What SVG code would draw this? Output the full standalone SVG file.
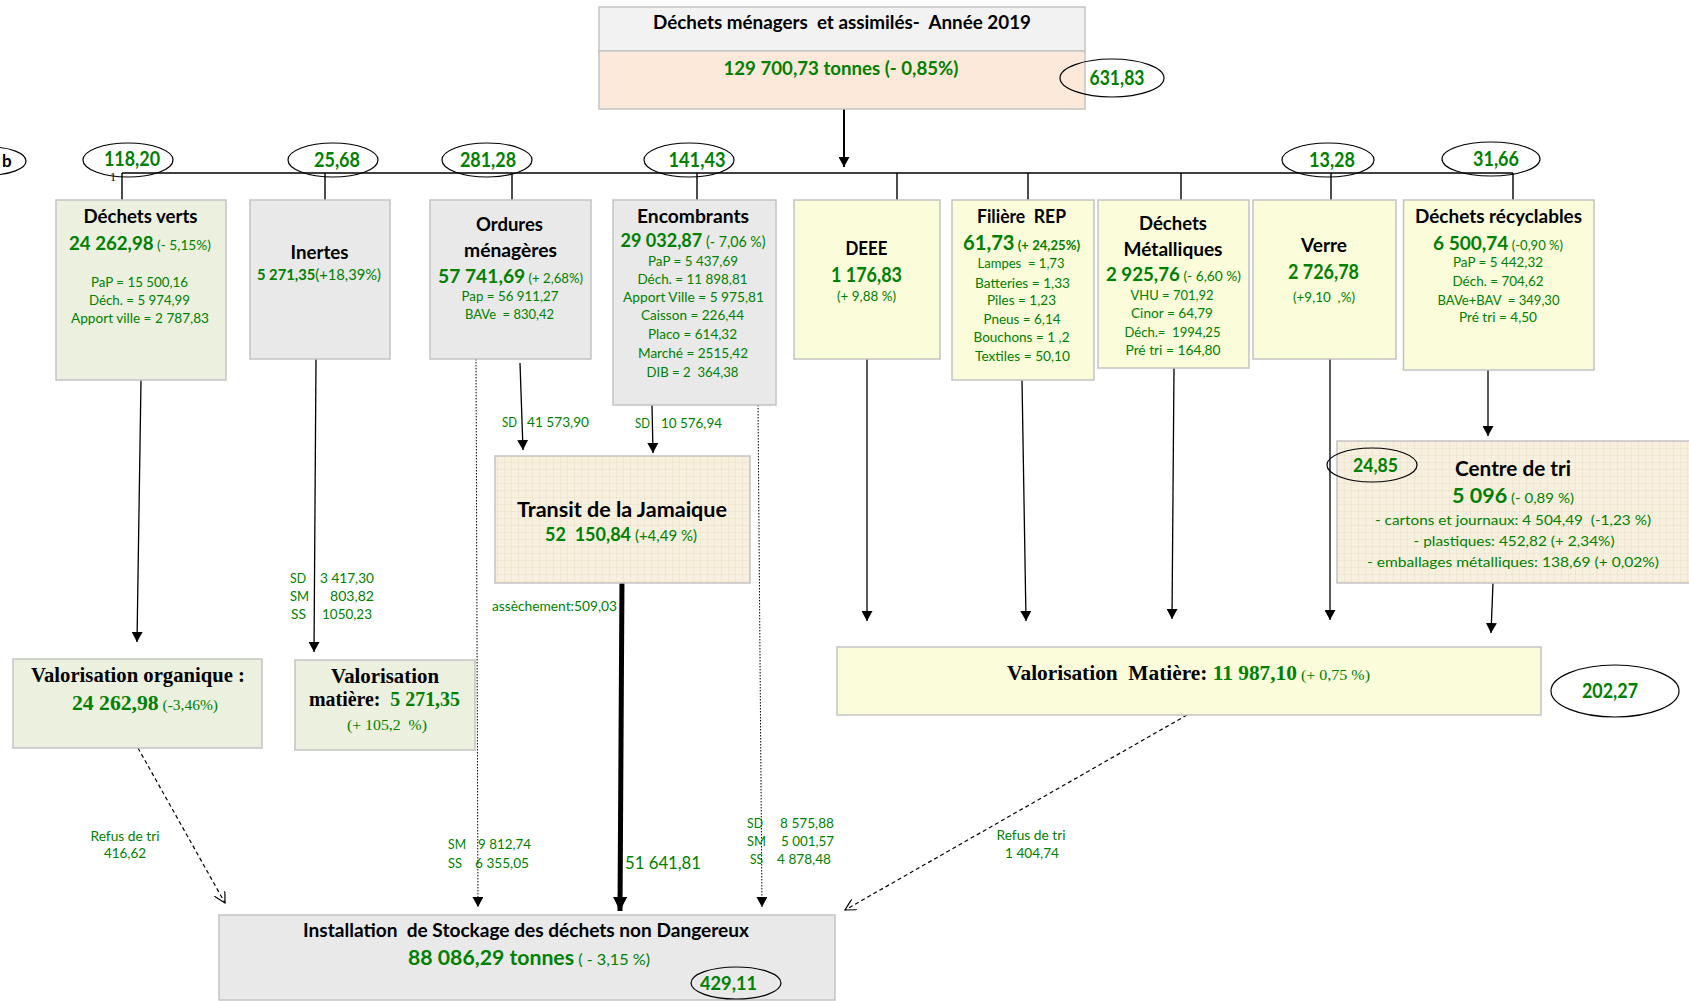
<svg xmlns="http://www.w3.org/2000/svg" width="1689" height="1001" viewBox="0 0 1689 1001" xml:space="preserve">
<style>
text{font-family:Lato,"Liberation Sans",sans-serif;white-space:pre;}
.c{text-anchor:middle;}
.k{fill:#000;font-weight:bold;}
.g{fill:#008000;}
.gb{fill:#008000;font-weight:bold;}
.ser{font-family:"Liberation Serif","Times New Roman",serif;}
.box{stroke:#c3c3c3;stroke-width:1.5;}
.gr{fill:#ebf1de;}
.gy{fill:#e9e9e9;}
.ye{fill:#fafcda;}
.ell{fill:none;stroke:#000;stroke-width:1.2;}
.ln{stroke:#000;stroke-width:1.4;fill:none;}
.ar{stroke:#000;stroke-width:1.3;fill:none;marker-end:url(#ah);}
.dot{stroke:#000;stroke-width:1;stroke-dasharray:1.5 1.5;fill:none;marker-end:url(#ah);}
.dash{stroke:#000;stroke-width:1.2;stroke-dasharray:4 3;fill:none;marker-end:url(#open);}
</style>
<defs>
<marker id="ah" viewBox="0 0 10 11" refX="10" refY="5.5" markerWidth="10" markerHeight="11" markerUnits="userSpaceOnUse" orient="auto"><path d="M0,0 L10,5.5 L0,11 z" fill="#000"/></marker>
<marker id="ahb" viewBox="0 0 14 14" refX="14" refY="7" markerWidth="14" markerHeight="14" markerUnits="userSpaceOnUse" orient="auto"><path d="M0,0 L14,7 L0,14 z" fill="#000"/></marker>
<marker id="open" viewBox="0 0 12 12" refX="11" refY="6" markerWidth="12" markerHeight="12" markerUnits="userSpaceOnUse" orient="auto"><path d="M0,0 L11,6 L0,12" fill="none" stroke="#000" stroke-width="1.2"/></marker>
<pattern id="grid" width="7" height="7" patternUnits="userSpaceOnUse"><rect width="7" height="7" fill="#f7f0de"/><path d="M7,0 L0,0 0,7" fill="none" stroke="#e6dcc3" stroke-width="0.8"/></pattern>
</defs>
<rect width="1689" height="1001" fill="#fff"/>

<g id="connectors">
<line class="ln" x1="844" y1="109" x2="844" y2="167" style="stroke-width:2;marker-end:url(#ah)"/>
<line class="ln" x1="122" y1="173" x2="1513" y2="173"/>
<line class="ln" x1="122" y1="173" x2="122" y2="200"/>
<line class="ln" x1="325" y1="173" x2="325" y2="200"/>
<line class="ln" x1="512" y1="173" x2="512" y2="200"/>
<line class="ln" x1="697" y1="173" x2="697" y2="200"/>
<line class="ln" x1="897" y1="173" x2="897" y2="200"/>
<line class="ln" x1="1028" y1="173" x2="1028" y2="200"/>
<line class="ln" x1="1181" y1="173" x2="1181" y2="200"/>
<line class="ln" x1="1331" y1="173" x2="1331" y2="200"/>
<line class="ln" x1="1513" y1="173" x2="1513" y2="200"/>
<line class="ar" x1="141" y1="380" x2="137" y2="642"/>
<line class="ar" x1="316" y1="359" x2="314" y2="652"/>
<line class="dot" x1="476" y1="359" x2="478" y2="907"/>
<line class="ar" x1="520" y1="363" x2="523" y2="450"/>
<line class="ar" x1="652" y1="405" x2="653" y2="453"/>
<line class="dot" x1="758" y1="405" x2="762" y2="907"/>
<line x1="622" y1="578" x2="620" y2="911" stroke="#000" stroke-width="5" marker-end="url(#ahb)"/>
<line class="ar" x1="867" y1="359" x2="867" y2="621"/>
<line class="ar" x1="1022" y1="380" x2="1026" y2="621"/>
<line class="ar" x1="1174" y1="368" x2="1172" y2="619"/>
<line class="ar" x1="1330" y1="359" x2="1330" y2="620"/>
<line class="ar" x1="1488" y1="370" x2="1488" y2="436"/>
<line class="ar" x1="1493" y1="583" x2="1491" y2="633"/>
<line class="dash" x1="138" y1="748" x2="225" y2="903"/>
<line class="dash" x1="1187" y1="715" x2="845" y2="910"/>
</g>

<g id="top">
<rect class="box" x="599" y="7" width="486" height="44" fill="#f2f2f2"/>
<rect class="box" x="599" y="51" width="486" height="58" fill="#fde9d9"/>
<text class="c k" x="842" y="29" font-size="19" textLength="378" lengthAdjust="spacingAndGlyphs">Déchets ménagers  et assimilés-  Année 2019</text>
<text class="c gb" x="841" y="75" font-size="19" textLength="235" lengthAdjust="spacingAndGlyphs">129 700,73 tonnes (- 0,85%)</text>
<ellipse class="ell" cx="1112" cy="78" rx="52" ry="19"/>
<text class="c gb" x="1117" y="85" font-size="20" textLength="55" lengthAdjust="spacingAndGlyphs">631,83</text>
</g>

<g id="bus-labels">
<ellipse class="ell" cx="-10" cy="161" rx="36" ry="14"/>
<text class="k" x="2" y="167" font-size="17">b</text>
<ellipse class="ell" cx="128" cy="160" rx="45" ry="17"/>
<text class="c gb" x="132" y="166" font-size="20" textLength="56" lengthAdjust="spacingAndGlyphs">118,20</text>
<text class="ser" x="110" y="181" font-size="12" fill="#000">1</text>
<ellipse class="ell" cx="333" cy="160" rx="45" ry="17"/>
<text class="c gb" x="337" y="167" font-size="20" textLength="46" lengthAdjust="spacingAndGlyphs">25,68</text>
<ellipse class="ell" cx="487" cy="160" rx="45" ry="17"/>
<text class="c gb" x="488" y="167" font-size="20" textLength="56" lengthAdjust="spacingAndGlyphs">281,28</text>
<ellipse class="ell" cx="689" cy="160" rx="45" ry="17"/>
<text class="c gb" x="697" y="167" font-size="20" textLength="57" lengthAdjust="spacingAndGlyphs">141,43</text>
<ellipse class="ell" cx="1328" cy="160" rx="46" ry="17"/>
<text class="c gb" x="1332" y="167" font-size="20" textLength="46" lengthAdjust="spacingAndGlyphs">13,28</text>
<ellipse class="ell" cx="1491" cy="159" rx="49" ry="17"/>
<text class="c gb" x="1496" y="166" font-size="20" textLength="46" lengthAdjust="spacingAndGlyphs">31,66</text>
</g>

<g id="dechets-verts">
<rect class="box gr" x="56" y="200" width="170" height="180"/>
<text class="c k" x="140.5" y="223" font-size="19" textLength="114" lengthAdjust="spacingAndGlyphs">Déchets verts</text>
<text class="c" x="140" y="250" textLength="142" lengthAdjust="spacingAndGlyphs"><tspan class="gb" font-size="19">24 262,98</tspan><tspan class="g" font-size="14"> (- 5,15%)</tspan></text>
<text class="c g" x="139.5" y="286.5" font-size="13" textLength="97" lengthAdjust="spacingAndGlyphs">PaP = 15 500,16</text>
<text class="c g" x="139.5" y="304.5" font-size="13" textLength="101" lengthAdjust="spacingAndGlyphs">Déch. = 5 974,99</text>
<text class="c g" x="140" y="322.5" font-size="13" textLength="138" lengthAdjust="spacingAndGlyphs">Apport ville = 2 787,83</text>
</g>

<g id="inertes">
<rect class="box gy" x="250" y="200" width="140" height="159"/>
<text class="c k" x="319.5" y="259" font-size="19" textLength="58" lengthAdjust="spacingAndGlyphs">Inertes</text>
<text class="c" x="319" y="280" textLength="124" lengthAdjust="spacingAndGlyphs"><tspan class="gb" font-size="15">5 271,35</tspan><tspan class="g" font-size="15">(+18,39%)</tspan></text>
</g>

<g id="ordures-menageres">
<rect class="box gy" x="430" y="200" width="161" height="159"/>
<text class="c k" x="509.5" y="231" font-size="19" textLength="67" lengthAdjust="spacingAndGlyphs">Ordures</text>
<text class="c k" x="510.5" y="257" font-size="19" textLength="93" lengthAdjust="spacingAndGlyphs">ménagères</text>
<text class="c" x="510.5" y="283" textLength="145" lengthAdjust="spacingAndGlyphs"><tspan class="gb" font-size="19">57 741,69</tspan><tspan class="g" font-size="13"> (+ 2,68%)</tspan></text>
<text class="c g" x="510" y="300.5" font-size="13" textLength="97" lengthAdjust="spacingAndGlyphs">Pap = 56 911,27</text>
<text class="c g" x="509.5" y="318.5" font-size="13" textLength="89" lengthAdjust="spacingAndGlyphs">BAVe  = 830,42</text>
</g>

<g id="encombrants">
<rect class="box gy" x="613" y="200" width="163" height="205"/>
<text class="c k" x="693" y="223" font-size="19" textLength="112" lengthAdjust="spacingAndGlyphs">Encombrants</text>
<text class="c" x="693" y="247" textLength="145" lengthAdjust="spacingAndGlyphs"><tspan class="gb" font-size="19">29 032,87</tspan><tspan class="g" font-size="15"> (- 7,06 %)</tspan></text>
<text class="c g" x="693" y="265.5" font-size="13" textLength="90" lengthAdjust="spacingAndGlyphs">PaP = 5 437,69</text>
<text class="c g" x="692.5" y="283.5" font-size="13" textLength="110" lengthAdjust="spacingAndGlyphs">Déch. = 11 898,81</text>
<text class="c g" x="693.5" y="301.5" font-size="13" textLength="141" lengthAdjust="spacingAndGlyphs">Apport Ville = 5 975,81</text>
<text class="c g" x="692.5" y="319.5" font-size="13" textLength="103" lengthAdjust="spacingAndGlyphs">Caisson = 226,44</text>
<text class="c g" x="692.5" y="338.5" font-size="13" textLength="89" lengthAdjust="spacingAndGlyphs">Placo = 614,32</text>
<text class="c g" x="693" y="357.5" font-size="13" textLength="110" lengthAdjust="spacingAndGlyphs">Marché = 2515,42</text>
<text class="c g" x="692.5" y="376.5" font-size="13" textLength="92" lengthAdjust="spacingAndGlyphs">DIB = 2  364,38</text>
</g>

<g id="deee">
<rect class="box ye" x="794" y="200" width="146" height="159"/>
<text class="c k" x="866.5" y="255" font-size="19" textLength="42" lengthAdjust="spacingAndGlyphs">DEEE</text>
<text class="c gb" x="866.5" y="282" font-size="20" textLength="71" lengthAdjust="spacingAndGlyphs">1 176,83</text>
<text class="c g" x="866.5" y="300.5" font-size="13" textLength="59" lengthAdjust="spacingAndGlyphs">(+ 9,88 %)</text>
</g>

<g id="filiere-rep">
<rect class="box ye" x="952" y="200" width="142" height="180"/>
<text class="c k" x="1021.5" y="223" font-size="19" textLength="89" lengthAdjust="spacingAndGlyphs">Filière  REP</text>
<text class="c" x="1021.5" y="250" textLength="117" lengthAdjust="spacingAndGlyphs"><tspan class="gb" font-size="20">61,73</tspan><tspan class="gb" font-size="13"> (+ 24,25%)</tspan></text>
<text class="c g" x="1021" y="267.5" font-size="13" textLength="87" lengthAdjust="spacingAndGlyphs">Lampes  = 1,73</text>
<text class="c g" x="1022.5" y="287.5" font-size="13" textLength="95" lengthAdjust="spacingAndGlyphs">Batteries = 1,33</text>
<text class="c g" x="1021.5" y="304.5" font-size="13" textLength="69" lengthAdjust="spacingAndGlyphs">Piles = 1,23</text>
<text class="c g" x="1022" y="323.5" font-size="13" textLength="77" lengthAdjust="spacingAndGlyphs">Pneus = 6,14</text>
<text class="c g" x="1021.5" y="341.5" font-size="13" textLength="96" lengthAdjust="spacingAndGlyphs">Bouchons = 1 ,2</text>
<text class="c g" x="1022.5" y="360.5" font-size="13" textLength="95" lengthAdjust="spacingAndGlyphs">Textiles = 50,10</text>
</g>

<g id="dechets-metalliques">
<rect class="box ye" x="1098" y="200" width="151" height="168"/>
<text class="c k" x="1173" y="230" font-size="19" textLength="68" lengthAdjust="spacingAndGlyphs">Déchets</text>
<text class="c k" x="1173" y="256" font-size="19" textLength="99" lengthAdjust="spacingAndGlyphs">Métalliques</text>
<text class="c" x="1173.5" y="281" textLength="135" lengthAdjust="spacingAndGlyphs"><tspan class="gb" font-size="19">2 925,76</tspan><tspan class="g" font-size="14"> (- 6,60 %)</tspan></text>
<text class="c g" x="1172" y="299.5" font-size="13" textLength="83" lengthAdjust="spacingAndGlyphs">VHU = 701,92</text>
<text class="c g" x="1172" y="317.5" font-size="13" textLength="82" lengthAdjust="spacingAndGlyphs">Cinor = 64,79</text>
<text class="c g" x="1172.5" y="336.5" font-size="13" textLength="96" lengthAdjust="spacingAndGlyphs">Déch.=  1994,25</text>
<text class="c g" x="1173" y="354.5" font-size="13" textLength="95" lengthAdjust="spacingAndGlyphs">Pré tri = 164,80</text>
</g>

<g id="verre">
<rect class="box ye" x="1253" y="200" width="143" height="159"/>
<text class="c k" x="1324" y="252" font-size="19" textLength="46" lengthAdjust="spacingAndGlyphs">Verre</text>
<text class="c gb" x="1323.5" y="279" font-size="20" textLength="71" lengthAdjust="spacingAndGlyphs">2 726,78</text>
<text class="c g" x="1324" y="301.5" font-size="13" textLength="62" lengthAdjust="spacingAndGlyphs">(+9,10  ,%)</text>
</g>

<g id="dechets-recyclables">
<rect class="box ye" x="1403.5" y="200" width="190.5" height="170"/>
<text class="c k" x="1498.5" y="223" font-size="19" textLength="167" lengthAdjust="spacingAndGlyphs">Déchets récyclables</text>
<text class="c" x="1498" y="250" textLength="130" lengthAdjust="spacingAndGlyphs"><tspan class="gb" font-size="19">6 500,74</tspan><tspan class="g" font-size="13"> (-0,90 %)</tspan></text>
<text class="c g" x="1498" y="266.5" font-size="13" textLength="90" lengthAdjust="spacingAndGlyphs">PaP = 5 442,32</text>
<text class="c g" x="1498" y="285.5" font-size="13" textLength="91" lengthAdjust="spacingAndGlyphs">Déch. = 704,62</text>
<text class="c g" x="1498.5" y="304.5" font-size="13" textLength="122" lengthAdjust="spacingAndGlyphs">BAVe+BAV  = 349,30</text>
<text class="c g" x="1498" y="321.5" font-size="13" textLength="78" lengthAdjust="spacingAndGlyphs">Pré tri = 4,50</text>
</g>

<g id="valorisation-organique">
<rect class="box gr" x="13" y="659" width="249" height="89"/>
<text class="c k ser" x="138" y="682" font-size="20" textLength="214" lengthAdjust="spacingAndGlyphs">Valorisation organique :</text>
<text class="c ser" x="145" y="710" textLength="146" lengthAdjust="spacingAndGlyphs"><tspan class="gb" font-size="21">24 262,98</tspan><tspan class="g" font-size="15"> (-3,46%)</tspan></text>
</g>

<g id="valorisation-matiere-inertes">
<rect class="box gr" x="295" y="660" width="180" height="90"/>
<text class="c k ser" x="385" y="683" font-size="20" textLength="108" lengthAdjust="spacingAndGlyphs">Valorisation</text>
<text class="c ser" x="384.5" y="706" textLength="151" lengthAdjust="spacingAndGlyphs"><tspan class="k" font-size="20">matière:  </tspan><tspan class="gb" font-size="20">5 271,35</tspan></text>
<text class="c g ser" x="387" y="730" font-size="15" textLength="80" lengthAdjust="spacingAndGlyphs">(+ 105,2  %)</text>
</g>

<g id="flow-labels">
<text class="g" x="290" y="582.5" font-size="13" textLength="16" lengthAdjust="spacingAndGlyphs">SD</text>
<text class="g" x="320" y="582.5" font-size="13" textLength="54" lengthAdjust="spacingAndGlyphs">3 417,30</text>
<text class="g" x="290" y="600.5" font-size="13" textLength="19" lengthAdjust="spacingAndGlyphs">SM</text>
<text class="g" x="330" y="600.5" font-size="13" textLength="44" lengthAdjust="spacingAndGlyphs">803,82</text>
<text class="g" x="291" y="618.5" font-size="13" textLength="15" lengthAdjust="spacingAndGlyphs">SS</text>
<text class="g" x="322" y="618.5" font-size="13" textLength="50" lengthAdjust="spacingAndGlyphs">1050,23</text>
<text class="g" x="502" y="426.5" font-size="13" textLength="15" lengthAdjust="spacingAndGlyphs">SD</text>
<text class="g" x="527" y="426.5" font-size="13" textLength="62" lengthAdjust="spacingAndGlyphs">41 573,90</text>
<text class="g" x="635" y="427.5" font-size="13" textLength="15" lengthAdjust="spacingAndGlyphs">SD</text>
<text class="g" x="661" y="427.5" font-size="13" textLength="61" lengthAdjust="spacingAndGlyphs">10 576,94</text>
<text class="g" x="492" y="610.5" font-size="13" textLength="125" lengthAdjust="spacingAndGlyphs">assèchement:509,03</text>
<text class="g" x="625" y="869" font-size="18" textLength="76" lengthAdjust="spacingAndGlyphs">51 641,81</text>
<text class="g" x="448" y="848.5" font-size="13" textLength="18" lengthAdjust="spacingAndGlyphs">SM</text>
<text class="g" x="478" y="848.5" font-size="13" textLength="53" lengthAdjust="spacingAndGlyphs">9 812,74</text>
<text class="g" x="448" y="867.5" font-size="13" textLength="14" lengthAdjust="spacingAndGlyphs">SS</text>
<text class="g" x="475" y="867.5" font-size="13" textLength="54" lengthAdjust="spacingAndGlyphs">6 355,05</text>
<text class="g" x="747" y="827.5" font-size="13" textLength="16" lengthAdjust="spacingAndGlyphs">SD</text>
<text class="g" x="780" y="827.5" font-size="13" textLength="54" lengthAdjust="spacingAndGlyphs">8 575,88</text>
<text class="g" x="747" y="845.5" font-size="13" textLength="19" lengthAdjust="spacingAndGlyphs">SM</text>
<text class="g" x="781" y="845.5" font-size="13" textLength="53" lengthAdjust="spacingAndGlyphs">5 001,57</text>
<text class="g" x="750" y="863.5" font-size="13" textLength="13" lengthAdjust="spacingAndGlyphs">SS</text>
<text class="g" x="777" y="863.5" font-size="13" textLength="54" lengthAdjust="spacingAndGlyphs">4 878,48</text>
<text class="c g" x="125" y="840.5" font-size="13" textLength="69" lengthAdjust="spacingAndGlyphs">Refus de tri</text>
<text class="c g" x="125" y="857.5" font-size="13" textLength="42" lengthAdjust="spacingAndGlyphs">416,62</text>
<text class="c g" x="1031" y="839.5" font-size="13" textLength="69" lengthAdjust="spacingAndGlyphs">Refus de tri</text>
<text class="c g" x="1032" y="857.5" font-size="13" textLength="54" lengthAdjust="spacingAndGlyphs">1 404,74</text>
</g>

<g id="transit-jamaique">
<rect class="box" x="495" y="456" width="255" height="127" fill="url(#grid)"/>
<text class="c k" x="622" y="517" font-size="21" textLength="210" lengthAdjust="spacingAndGlyphs">Transit de la Jamaique</text>
<text class="c" x="621" y="541" textLength="152" lengthAdjust="spacingAndGlyphs"><tspan class="gb" font-size="18">52  150,84</tspan><tspan class="g" font-size="15"> (+4,49 %)</tspan></text>
</g>

<g id="centre-de-tri">
<rect class="box" x="1337" y="441" width="360" height="142" fill="url(#grid)"/>
<ellipse class="ell" cx="1372" cy="465" rx="45" ry="17"/>
<text class="c gb" x="1375.5" y="472" font-size="18" textLength="45" lengthAdjust="spacingAndGlyphs">24,85</text>
<text class="c k" x="1513" y="475.5" font-size="21" textLength="116" lengthAdjust="spacingAndGlyphs">Centre de tri</text>
<text class="c" x="1513" y="503" textLength="122" lengthAdjust="spacingAndGlyphs"><tspan class="gb" font-size="20">5 096</tspan><tspan class="g" font-size="14"> (- 0,89 %)</tspan></text>
<text class="c g" x="1513" y="524.5" font-size="14" textLength="276" lengthAdjust="spacingAndGlyphs">- cartons et journaux: 4 504,49  (-1,23 %)</text>
<text class="c g" x="1514" y="545.5" font-size="14" textLength="201" lengthAdjust="spacingAndGlyphs">- plastiques: 452,82 (+ 2,34%)</text>
<text class="c g" x="1513" y="566.5" font-size="14" textLength="292" lengthAdjust="spacingAndGlyphs">- emballages métalliques: 138,69 (+ 0,02%)</text>
</g>

<g id="valorisation-matiere">
<rect class="box ye" x="837" y="647" width="704" height="68"/>
<text class="ser" x="1007" y="680" textLength="363" lengthAdjust="spacingAndGlyphs"><tspan class="k" font-size="20">Valorisation  Matière: </tspan><tspan class="gb" font-size="20">11 987,10</tspan><tspan class="g" font-size="15"> (+ 0,75 %)</tspan></text>
<ellipse class="ell" cx="1615" cy="691" rx="64" ry="26"/>
<text class="c gb" x="1610" y="698" font-size="20" textLength="56" lengthAdjust="spacingAndGlyphs">202,27</text>
</g>

<g id="isdnd">
<rect class="box gy" x="219" y="915" width="616" height="85"/>
<text class="c k" x="526" y="937" font-size="19" textLength="446" lengthAdjust="spacingAndGlyphs">Installation  de Stockage des déchets non Dangereux</text>
<text class="c" x="529" y="965" textLength="242" lengthAdjust="spacingAndGlyphs"><tspan class="gb" font-size="21">88 086,29 tonnes</tspan><tspan class="g" font-size="16"> ( - 3,15 %)</tspan></text>
<ellipse class="ell" cx="736" cy="983" rx="45" ry="16"/>
<text class="c gb" x="728.5" y="990" font-size="19" textLength="57" lengthAdjust="spacingAndGlyphs">429,11</text>
</g>
</svg>
